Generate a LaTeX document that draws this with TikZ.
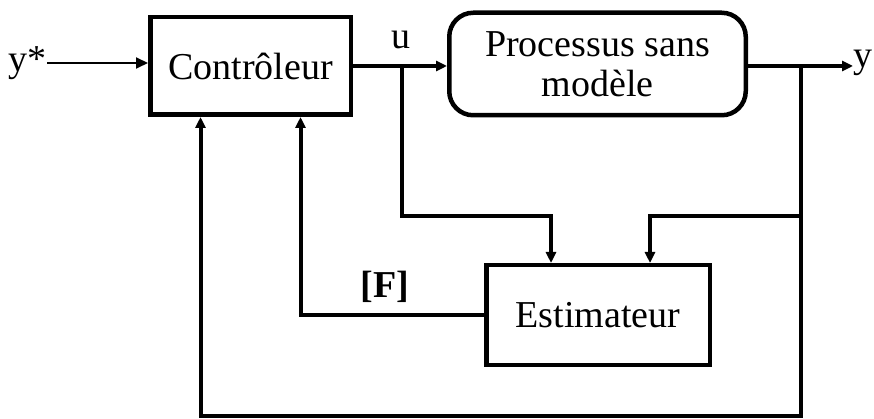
\documentclass[tikz,border=0pt]{standalone}
\usepackage{fontspec}
\setmainfont{Liberation Serif}
\usetikzlibrary{arrows.meta}
\begin{document}
\begin{tikzpicture}[x=1pt,y=-1pt,
  txt/.style={font=\fontsize{38}{42}\selectfont},
  blk/.style={draw, line width=4.5pt, inner sep=0pt, txt},
  wire/.style={line width=4pt},
  arr/.style={wire, -{Triangle[length=11pt,width=10pt]}},
  thinarr/.style={line width=2pt, -{Triangle[length=12pt,width=11pt]}}]
\useasboundingbox (0,0) rectangle (874,419);
\node[blk, minimum width=200.5pt, minimum height=97.5pt] (ctrl) at (250.5,66) {Contrôleur};
\node[blk, rounded corners=24pt, minimum width=296.5pt, minimum height=102.5pt, align=center] (proc) at (597.5,64) {Processus sans\\[-2pt]modèle};
\node[blk, minimum width=223.5pt, minimum height=99.5pt] (est) at (598,315) {Estimateur};
\node[txt, anchor=east, inner sep=0pt] (ystar) at (47,63) {y*};
\node[txt, anchor=west, inner sep=0pt] (yout) at (853,63) {y};
\node[txt, inner sep=0pt] (ulab) at (401,40) {u};
\node[txt, inner sep=0pt, font=\fontsize{38}{42}\selectfont\bfseries] (flab) at (385,287) {[F]};
\coordinate (ub) at (402,66);
\coordinate (yb) at (801,66);
\coordinate (ymid) at (801,216);
\coordinate (ulow) at (402,216);
\coordinate (ylow) at (801,416);
\draw[thinarr] (ystar.east) -- (ystar.east -| ctrl.west);
\draw[arr] (ctrl.east) -- (ctrl.east -| proc.west);
\draw[arr] (proc.east |- ctrl.east) -- (yout.west |- ctrl.east);
\draw[arr] (ub) -- (ulow) -| ([xshift=-47pt]est.north);
\draw[arr] (yb) -- (ymid) -| ([xshift=52pt]est.north);
\draw[arr] (yb) -- (ylow) -| ([xshift=-50pt]ctrl.south);
\draw[arr] (est.west) -| ([xshift=50pt]ctrl.south);
\end{tikzpicture}
\end{document}
